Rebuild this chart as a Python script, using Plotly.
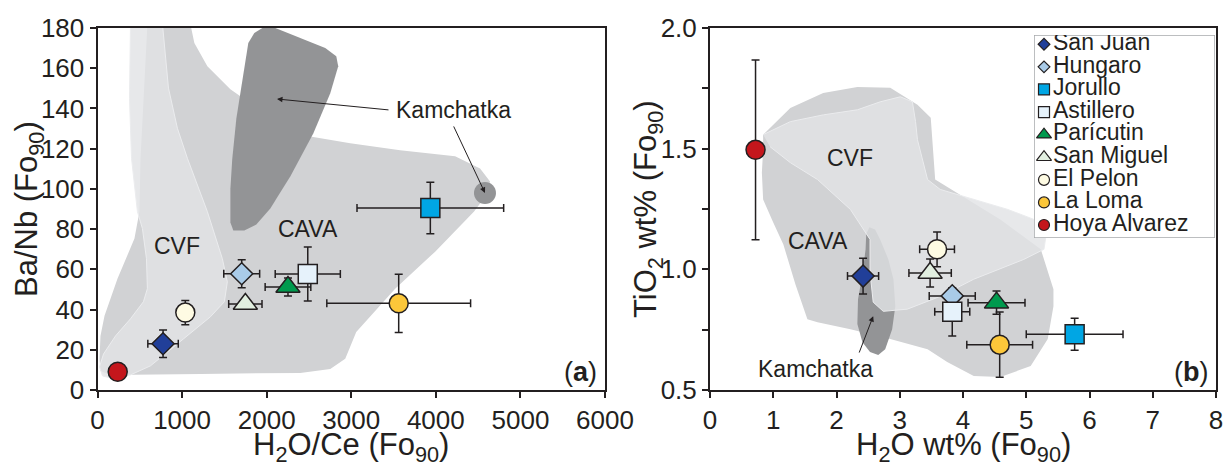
import plotly.graph_objects as go

# ---------------- data ----------------
sites = ["San Juan", "Hungaro", "Jorullo", "Astillero", "Parícutin",
         "San Miguel", "El Pelon", "La Loma", "Hoya Alvarez"]
symbols = ["diamond", "diamond", "square", "square", "triangle-up",
           "triangle-up", "circle", "circle", "circle"]
colors = ["#213f99", "#a9cbe8", "#00a6e4", "#e6f2fb", "#009a4e",
          "#e2efe0", "#fefbe3", "#fcc73a", "#c4161c"]

# panel (a): H2O/Ce vs Ba/Nb
h2o_ce = [775, 1705, 3935, 2486, 2252, 1748, 1038, 3561, 239]
h2o_ce_err = [180, 212, 867, 385, 270, 197, 0, 850, 0]
ba_nb = [23.0, 57.8, 90.5, 57.7, 51.2, 42.8, 38.5, 43.1, 9.1]
ba_nb_err = [6.8, 7.0, 12.8, 13.4, 4.5, 0, 6.0, 14.5, 0]

# panel (b): H2O vs TiO2
h2o = [2.42, 3.83, 5.765, 3.83, 4.53, 3.48, 3.59, 4.58, 0.72]
h2o_err = [0.246, 0.364, 0.765, 0.277, 0.45, 0.335, 0.275, 0.52, 0]
tio2 = [0.972, 0.890, 0.731, 0.824, 0.862, 0.985, 1.083, 0.688, 1.495]
tio2_err = [0.074, 0, 0.066, 0.10, 0.048, 0.058, 0.072, 0.135, 0.372]

# field outlines, panel (a)
cava_a_x = [590, 508, 496, 437, 236, 83, 35, 24, 35, 154, 1216, 2397, 2752, 2929,
            3059, 3519, 3992, 4452, 4594, 4641, 4523, 4228, 3578, 2988, 2516,
            2102, 1689, 1571, 1299, 1145, 1098]
cava_a_y = [182, 114.7, 88.7, 75.3, 55.3, 36.9, 26.9, 15.5, 9.5, 7.5, 8, 8.5, 10.5,
            15.5, 28.9, 50.4, 68.8, 88.7, 96.7, 103.7, 110.2, 116.2, 119.2, 122.7,
            126.1, 132.6, 146.1, 149.6, 161, 172.5, 182]
cvf_a_x = [390, 378, 402, 472, 531, 579, 590, 543, 390, 213, 71, 24, 59, 154, 390,
           626, 1016, 1335, 1500, 1535, 1476, 1299, 1063, 945, 839, 768]
cvf_a_y = [182, 145.1, 115.2, 88.7, 80.3, 65.3, 50.4, 43.9, 35.4, 26.9, 17.9, 11.5,
           7, 6, 7.5, 12, 25.4, 36.4, 43.9, 53.8, 65.3, 88.7, 115.2, 130.1, 150.1, 182]
kam_a_x = [1854, 1949, 2102, 2397, 2693, 2823, 2846, 2752, 2551, 2279, 2043, 1878,
           1736, 1606, 1571, 1571, 1594, 1642, 1713, 1783]
kam_a_y = [177.5, 180, 180, 175, 170, 166, 161, 147.6, 127.6, 106.2, 90.2, 82.3,
           79.3, 79.3, 83.3, 100.2, 115.2, 135.1, 155.1, 172.5]
kam_a_spot = (4581, 98.0)

# field outlines, panel (b)
cava_b_x = [0.84, 1.27, 1.79, 2.33, 2.85, 3.28, 3.49, 3.52, 3.56, 4.59, 5.23, 5.43,
            5.43, 5.34, 5.07, 4.59, 4.17, 3.75, 3.44, 2.85, 2.22, 1.70, 1.54, 1.35,
            1.16, 1.00, 0.84, 0.82, 0.84]
cava_b_y = [1.558, 1.669, 1.731, 1.756, 1.752, 1.682, 1.628, 1.496, 1.372, 1.207,
            1.083, 0.917, 0.847, 0.711, 0.599, 0.554, 0.558, 0.616, 0.669, 0.711,
            0.752, 0.781, 0.793, 0.938, 1.103, 1.194, 1.289, 1.401, 1.496]
cvf_b_x = [0.84, 1.27, 1.79, 2.33, 2.69, 3.01, 3.20, 3.25, 3.28, 3.44, 3.64, 4.17,
           4.71, 5.12, 5.31, 5.28, 4.96, 4.17, 3.64, 3.12, 2.74, 2.58, 2.53, 2.53,
           2.22, 1.70, 1.27, 0.95]
cvf_b_y = [1.558, 1.612, 1.640, 1.661, 1.694, 1.715, 1.694, 1.612, 1.537, 1.372,
           1.331, 1.289, 1.248, 1.207, 1.136, 1.083, 1.041, 0.959, 0.888, 0.835,
           0.826, 0.864, 0.988, 1.124, 1.248, 1.372, 1.442, 1.508]
kam_b_x = [2.52, 2.61, 2.69, 2.82, 2.90, 2.93, 2.88, 2.77, 2.66, 2.53, 2.41, 2.33,
           2.34, 2.41, 2.46, 2.47]
kam_b_y = [1.174, 1.165, 1.124, 1.041, 0.959, 0.847, 0.752, 0.669, 0.645, 0.657,
           0.698, 0.773, 0.876, 0.979, 1.083, 1.145]

# ---------------- style ----------------
FONT = "Liberation Sans, Arial, Helvetica, sans-serif"
INK = "#231f20"
CAVA_FILL = "#d1d2d4"
CVF_FILL = "rgba(226,227,229,0.82)"
CVF_EDGE = "#ebecee"
KAM_FILL = "#939496"
W, H = 1225, 469


def marker_size(sym, base):
    if sym == "diamond":
        return base - 2
    if sym == "triangle-up":
        return base + 2
    return base


def field(x, y, fill, xa, ya, edge=None):
    return go.Scatter(x=x, y=y, mode="lines", fill="toself", fillcolor=fill,
                      line=dict(color=edge or fill, width=1 if edge else 0),
                      xaxis=xa, yaxis=ya, hoverinfo="skip", showlegend=False)


def points(x, xe, y, ye, xa, ya):
    return go.Scatter(
        x=x, y=y, mode="markers", xaxis=xa, yaxis=ya, showlegend=False,
        text=sites, hoverinfo="text",
        error_x=dict(type="data", array=xe, color=INK, thickness=1.5, width=4),
        error_y=dict(type="data", array=ye, color=INK, thickness=1.5, width=4),
        marker=dict(symbol=symbols, color=colors, opacity=1,
                    size=[marker_size(s, 19) for s in symbols],
                    line=dict(color=INK, width=1.5)))


fig = go.Figure()

# panel (a)
fig.add_trace(field(cava_a_x, cava_a_y, CAVA_FILL, "x", "y"))
fig.add_trace(field(cvf_a_x, cvf_a_y, CVF_FILL, "x", "y", CVF_EDGE))
fig.add_trace(field(kam_a_x, kam_a_y, KAM_FILL, "x", "y"))
fig.add_trace(go.Scatter(x=[kam_a_spot[0]], y=[kam_a_spot[1]], mode="markers",
                         marker=dict(size=22, color=KAM_FILL), hoverinfo="skip",
                         showlegend=False, xaxis="x", yaxis="y"))
fig.add_trace(points(h2o_ce, h2o_ce_err, ba_nb, ba_nb_err, "x", "y"))

# panel (b)
fig.add_trace(field(cava_b_x, cava_b_y, CAVA_FILL, "x2", "y2"))
fig.add_trace(field(kam_b_x, kam_b_y, KAM_FILL, "x2", "y2"))
fig.add_trace(field(cvf_b_x, cvf_b_y, CVF_FILL, "x2", "y2", CVF_EDGE))
fig.add_trace(points(h2o, h2o_err, tio2, tio2_err, "x2", "y2"))

# key box (own axes, one row per site)
key_rows = list(range(len(sites)))
key_xr = [0, 181]
key_yr = [8.575, -0.41]
fig.add_trace(go.Scatter(
    x=[key_xr[0], key_xr[1], key_xr[1], key_xr[0], key_xr[0]],
    y=[key_yr[1], key_yr[1], key_yr[0], key_yr[0], key_yr[1]],
    mode="lines", fill="toself", fillcolor="white",
    line=dict(color="#a7a9ac", width=1.5), xaxis="x3", yaxis="y3",
    hoverinfo="skip", showlegend=False))
fig.add_trace(go.Scatter(
    x=[10] * len(sites), y=key_rows, mode="markers", xaxis="x3", yaxis="y3",
    hoverinfo="skip", showlegend=False,
    marker=dict(symbol=symbols, color=colors, opacity=1,
                size=[marker_size(s, 11) for s in symbols],
                line=dict(color=INK, width=1.2))))
fig.add_trace(go.Scatter(
    x=[19] * len(sites), y=key_rows, mode="text", text=sites,
    textposition="middle right", xaxis="x3", yaxis="y3", hoverinfo="skip",
    showlegend=False, textfont=dict(family=FONT, size=23, color=INK)))


def px_x(p):
    return p / W


def px_y(p):
    return 1 - p / H


axis_common = dict(showline=True, mirror=True, linecolor=INK, linewidth=2,
                   ticks="outside", ticklen=6, tickwidth=1.5, tickcolor=INK,
                   showgrid=False, zeroline=False, automargin=False,
                   tickfont=dict(family=FONT, size=26, color=INK))
title_font = dict(family=FONT, size=31, color=INK)

fig.update_layout(
    width=W, height=H, margin=dict(l=0, r=0, t=0, b=0, autoexpand=False),
    paper_bgcolor="white", plot_bgcolor="white",
    font=dict(family=FONT, color=INK),
    xaxis=dict(axis_common, domain=[px_x(97.5), px_x(605)], range=[0, 6000],
               dtick=1000, anchor="y"),
    yaxis=dict(axis_common, domain=[px_y(390), px_y(28)], range=[0, 180],
               dtick=20, anchor="x"),
    xaxis2=dict(axis_common, domain=[px_x(710), px_x(1216)], range=[0, 8],
                dtick=1, anchor="y2"),
    yaxis2=dict(axis_common, domain=[px_y(390), px_y(28)], range=[0.5, 2.0],
                dtick=0.5, tickformat=".1f", anchor="x2",
                minor=dict(dtick=0.25, ticks="outside", ticklen=6,
                           tickwidth=1.5, tickcolor=INK)),
    xaxis3=dict(domain=[px_x(1034), px_x(1215)], range=key_xr, visible=False,
                anchor="y3", fixedrange=True, automargin=False),
    yaxis3=dict(domain=[px_y(238), px_y(35)], range=key_yr, visible=False,
                anchor="x3", fixedrange=True, automargin=False),
)

# axis titles
ttl = dict(showarrow=False, xref="paper", yref="paper", font=title_font,
           xanchor="center", yanchor="bottom")
fig.add_annotation(x=(px_x(97.5) + px_x(605)) / 2, y=0,
                   text="H<sub>2</sub>O/Ce (Fo<sub>90</sub>)", **ttl)
fig.add_annotation(x=(px_x(710) + px_x(1216)) / 2, y=0,
                   text="H<sub>2</sub>O wt% (Fo<sub>90</sub>)", **ttl)
fig.add_annotation(x=px_x(29), y=(px_y(390) + px_y(28)) / 2, textangle=-90,
                   text="Ba/Nb (Fo<sub>90</sub>)",
                   **dict(ttl, yanchor="middle"))
fig.add_annotation(x=px_x(648), y=(px_y(390) + px_y(28)) / 2, textangle=-90,
                   text="TiO<sub>2</sub> wt% (Fo<sub>90</sub>)",
                   **dict(ttl, yanchor="middle"))

lab = dict(showarrow=False, font=dict(family=FONT, size=23, color=INK))
arrow = dict(text="", showarrow=True, arrowhead=2, arrowsize=1.1,
             arrowwidth=1, arrowcolor=INK, standoff=0)
fig.add_annotation(x=945, y=71.8, xref="x", yref="y", text="CVF", **lab)
fig.add_annotation(x=2492, y=80.3, xref="x", yref="y", text="CAVA", **lab)
fig.add_annotation(x=4203, y=139.2, xref="x", yref="y", text="Kamchatka", **lab)
fig.add_annotation(x=2122, y=144.7, ax=3458, ay=139.2, xref="x", yref="y",
                   axref="x", ayref="y", **arrow)
fig.add_annotation(x=4581, y=98, ax=4203, ay=131.8, xref="x", yref="y",
                   axref="x", ayref="y", **arrow)
fig.add_annotation(x=2.22, y=1.463, xref="x2", yref="y2", text="CVF", **lab)
fig.add_annotation(x=1.70, y=1.116, xref="x2", yref="y2", text="CAVA", **lab)
fig.add_annotation(x=1.66, y=0.587, xref="x2", yref="y2", text="Kamchatka", **lab)
fig.add_annotation(x=2.58, y=0.806, ax=2.35, ay=0.649, xref="x2", yref="y2",
                   axref="x2", ayref="y2", **arrow)

panel = dict(showarrow=False, xanchor="right", yanchor="middle",
             font=dict(family=FONT, size=27, color=INK))
fig.add_annotation(x=0.988, y=0.05, xref="x domain", yref="y domain",
                   text="(<b>a</b>)", **panel)
fig.add_annotation(x=0.99, y=0.05, xref="x2 domain", yref="y2 domain",
                   text="(<b>b</b>)", **panel)

fig.write_html("out.html")
